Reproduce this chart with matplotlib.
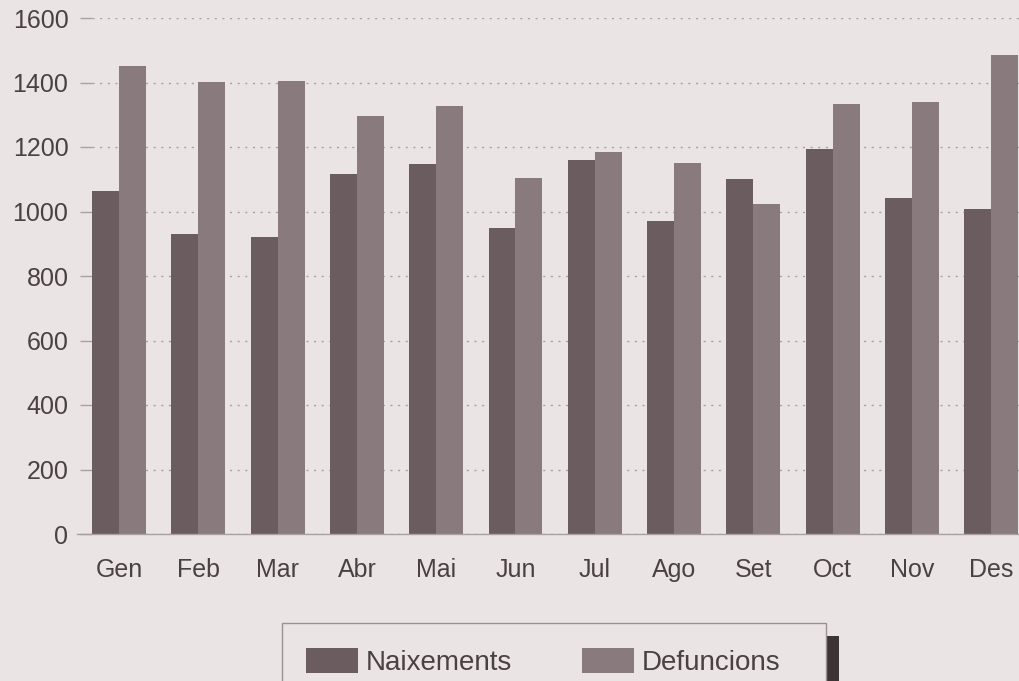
import matplotlib

matplotlib.use("Agg")
import matplotlib.pyplot as plt
import numpy as np
from matplotlib.patches import Patch, Rectangle

months = ["Gen", "Feb", "Mar", "Abr", "Mai", "Jun", "Jul", "Ago", "Set", "Oct", "Nov", "Des"]
naixements = [1064, 929, 922, 1116, 1147, 948, 1161, 971, 1100, 1194, 1041, 1007]
defuncions = [1452, 1403, 1405, 1297, 1327, 1103, 1183, 1149, 1024, 1334, 1341, 1485]
yticks = [0, 200, 400, 600, 800, 1000, 1200, 1400, 1600]

BG = "#ebe4e5"
C_NAIX = "#6a5c5f"
C_DEF = "#887a7d"
TXT = "#4a4144"
GRID = "#a9a0a2"

plt.rcParams["font.family"] = ["Liberation Sans", "DejaVu Sans"]

fig = plt.figure(figsize=(10.2, 6.81), dpi=100, facecolor=BG)
W, H = 1020, 681
left, right, top, base = 92, 1020, 18, 534
ax = fig.add_axes([left / W, 1 - base / H, (right - left) / W, (base - top) / H])
ax.set_facecolor(BG)

x = np.arange(len(months))
w = 0.34
ax.bar(x - w / 2, naixements, width=w, color=C_NAIX, linewidth=0, zorder=3)
ax.bar(x + w / 2, defuncions, width=w, color=C_DEF, linewidth=0, zorder=3)

spacing = 79.3
ax.set_xlim(-(119 - left) / spacing, (right - 119) / spacing)
ax.set_ylim(0, 1600)

ax.set_yticks(yticks)
ax.set_xticks(x)
ax.set_xticklabels(months)
ax.tick_params(axis="y", length=9, width=1.0, color=GRID, labelcolor=TXT, labelsize=18, pad=8)
ax.tick_params(axis="x", length=0, labelcolor=TXT, labelsize=18, pad=17)
ax.yaxis.grid(True, linestyle=(0, (1.5, 4)), color=GRID, linewidth=1.0, zorder=0)
for s in ["top", "right", "left", "bottom"]:
    ax.spines[s].set_visible(False)
ax.axhline(0, xmin=-(left - 77) / (right - left), xmax=1, color=GRID, linewidth=1.0,
           clip_on=False, zorder=4)

# legend box with offset shadow, cut off by the bottom edge
fig.patches.append(Rectangle((827 / W, 0), 12 / W, (H - 636) / H, transform=fig.transFigure,
                             facecolor="#3d3436", edgecolor="none", zorder=1))
fig.patches.append(Rectangle((282 / W, -0.02), (826 - 282) / W, 0.02 + (H - 623) / H,
                             transform=fig.transFigure, facecolor=BG, edgecolor="#9a9092",
                             linewidth=1.0, zorder=2))

handles = [Patch(facecolor=C_NAIX, edgecolor="none", label="Naixements"),
           Patch(facecolor=C_DEF, edgecolor="none", label="Defuncions")]
fig.legend(handles=handles, ncol=2, loc="upper left", bbox_to_anchor=(306 / W, 1 - 648 / H),
           frameon=False, labelcolor=TXT, handlelength=1.87, handleheight=1.0,
           handletextpad=0.29, columnspacing=2.52, borderpad=0, borderaxespad=0,
           fontsize=20)

fig.savefig("out.png", dpi=100, facecolor=BG)
plt.close(fig)
